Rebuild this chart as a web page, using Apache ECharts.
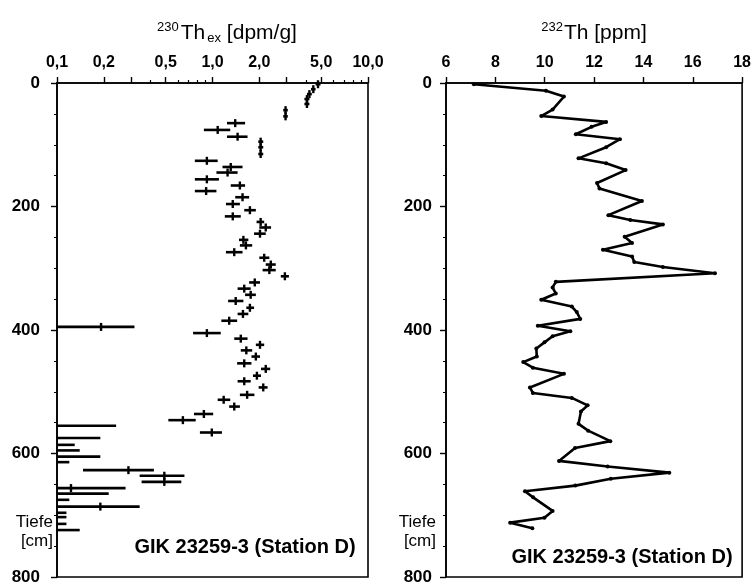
<!DOCTYPE html>
<html>
<head>
<meta charset="utf-8">
<script src="https://cdn.jsdelivr.net/npm/echarts@6/dist/echarts.min.js"></script>
<style>
  html, body { margin: 0; padding: 0; background: #fff; }
  #chart { width: 754px; height: 586px; }
</style>
</head>
<body>
<div id="chart"></div>
<script>
// 230Th_ex (dpm/g): Tiefe, Wert, Fehler unten, Fehler oben
var exDepth = [2, 10, 18, 26, 34, 44, 54, 65, 76, 87,
	95, 104, 115, 126, 136, 145, 156, 166, 175, 185,
	196, 206, 216, 225, 234, 244, 254, 263, 274, 283,
	294, 303, 313, 323, 333, 343, 353, 364, 374, 385,
	395, 405, 414, 424, 433, 443, 454, 463, 474, 483,
	493, 505, 513, 524, 536, 546, 566,
	555, 575, 586, 595, 605, 614, 627, 636, 646, 656,
	665, 675, 686, 696, 703, 714, 724];
var exVal = [4.77, 4.45, 4.2, 4.05, 4.05, 2.95, 2.95, 1.40, 1.08, 1.45,
	2.04, 2.04, 2.04, 0.92, 1.31, 1.25, 0.92, 1.50, 0.91, 1.56,
	1.35, 1.74, 1.35, 2.04, 2.20, 2.02, 1.58, 1.64, 1.38, 2.15,
	2.37, 2.32, 2.92, 1.87, 1.60, 1.76, 1.41, 1.74, 1.57, 1.28,
	0.192, 0.92, 1.52, 2.02, 1.65, 1.90, 1.60, 2.20, 1.93, 1.60,
	2.12, 1.67, 1.18, 1.38, 0.88, 0.645, 0.99,
	0.1, 0.1, 0.1, 0.1, 0.1, 0.1, 0.288, 0.49, 0.49, 0.123,
	0.1, 0.1, 0.19, 0.1, 0.1, 0.1, 0.1];
var exLo = [4.6, 4.3, 4.05, 3.9, 3.9, 2.85, 2.85, 1.24, 0.88, 1.24,
	1.97, 1.97, 1.97, 0.77, 1.16, 1.06, 0.77, 1.31, 0.77, 1.40,
	1.22, 1.60, 1.20, 1.92, 2.00, 1.85, 1.48, 1.50, 1.22, 2.00,
	2.20, 2.10, 2.75, 1.72, 1.45, 1.62, 1.26, 1.65, 1.45, 1.14,
	0.1, 0.75, 1.38, 1.90, 1.52, 1.78, 1.44, 2.05, 1.82, 1.45,
	1.98, 1.50, 1.08, 1.28, 0.76, 0.52, 0.83,
	0.1, 0.1, 0.1, 0.1, 0.1, 0.1, 0.147, 0.34, 0.35, 0.1,
	0.1, 0.1, 0.1, 0.1, 0.1, 0.1, 0.1];
var exHi = [4.95, 4.6, 4.35, 4.2, 4.2, 3.05, 3.05, 1.62, 1.30, 1.68,
	2.12, 2.12, 2.12, 1.08, 1.56, 1.45, 1.10, 1.62, 1.06, 1.72,
	1.50, 1.90, 1.52, 2.15, 2.38, 2.20, 1.70, 1.80, 1.56, 2.32,
	2.55, 2.55, 3.10, 2.02, 1.76, 1.90, 1.58, 1.85, 1.70, 1.44,
	0.315, 1.13, 1.68, 2.15, 1.80, 2.02, 1.78, 2.35, 2.05, 1.76,
	2.26, 1.86, 1.30, 1.50, 1.01, 0.78, 1.15,
	0.24, 0.19, 0.13, 0.14, 0.19, 0.12, 0.42, 0.66, 0.63, 0.276,
	0.215, 0.12, 0.34, 0.115, 0.115, 0.115, 0.14];

// 232Th (ppm)
var thDepth = [2, 12.5, 22, 43, 53.5, 63, 71, 83, 91, 104,
	122, 130, 141, 162, 171, 191, 214, 222, 229, 249,
	259, 270, 281, 290, 298, 308, 322, 331, 341, 351,
	362, 371, 382, 393, 402, 410, 420, 430, 443, 452,
	461, 471, 493, 502, 510, 522, 532, 552, 563, 580,
	591, 612, 621, 631, 641, 652, 661, 671, 693, 704,
	712, 721];
var thVal = [7.13, 10.05, 10.78, 10.32, 9.86, 12.49, 11.9, 11.26, 13.05, 12.49,
	11.37, 12.49, 13.28, 12.12, 12.22, 13.94, 12.58, 13.47, 14.79, 13.24,
	13.54, 12.36, 13.54, 13.63, 14.79, 16.9, 10.45, 10.32, 10.45, 9.86,
	11.1, 11.3, 11.44, 9.72, 11.04, 10.32, 9.99, 9.66, 9.68, 9.13,
	9.52, 10.78, 9.4, 9.52, 11.1, 11.74, 11.47, 11.37, 11.76, 12.66,
	11.23, 10.58, 12.55, 15.05, 12.68, 11.24, 9.2, 9.53, 10.32, 9.99,
	8.6, 9.5];

// Achsenbeschriftung
var logLabels = [0.1, 0.2, 0.5, 1, 2, 5, 10];
var logMajor = [0.1, 0.2, 0.3, 0.5, 1, 2, 3, 5, 10];
var logMinor = [0.4, 0.6, 0.7, 0.8, 0.9, 4, 6, 7, 8, 9];
var depthTicks = [0, 200, 400, 600, 800];
var stationText = 'GIK 23259-3 (Station D)';

var chart = echarts.init(document.getElementById('chart'));
var FONT = '"Liberation Sans", Arial, sans-serif';

var exData = [];
for (var i = 0; i < exDepth.length; i++) {
	exData.push([exVal[i], exDepth[i], exLo[i], exHi[i]]);
}
var thData = [];
for (var j = 0; j < thDepth.length; j++) {
	thData.push([thVal[j], thDepth[j]]);
}

function log10(v) { return Math.log(v) / Math.LN10; }

//Fehlerbalken mit Kreuz
function renderErr(params, api) {
	var v = api.value(0), d = api.value(1);
	var pLo = api.coord([api.value(2), d]);
	var pHi = api.coord([api.value(3), d]);
	var p = api.coord([v, d]);
	var kids = [{
		type: 'line',
		shape: { x1: pLo[0], y1: pLo[1], x2: pHi[0], y2: pHi[1] },
		style: { stroke: '#000', lineWidth: 2.6 }
	}];
	if (v > 0.1) {
		kids.push({
			type: 'line',
			shape: { x1: p[0], y1: p[1] - 4, x2: p[0], y2: p[1] + 4 },
			style: { stroke: '#000', lineWidth: 2.4 }
		});
	}
	return { type: 'group', children: kids };
}

var axisLineStyle = { color: '#000', width: 1.6 };
var labelStyle = { color: '#000', fontFamily: FONT, fontWeight: 'bold', fontSize: 16 };

function yAxisFor(grid, margin) {
	return {
		type: 'value', gridIndex: grid, inverse: true, min: 0, max: 800, interval: 200,
		axisLine: { show: true, onZero: false, lineStyle: axisLineStyle },
		axisTick: { show: true, length: 6, lineStyle: { color: '#000', width: 1.4 } },
		minorTick: { show: true, splitNumber: 4, length: 3, lineStyle: { color: '#000', width: 1 } },
		axisLabel: { color: '#000', fontFamily: FONT, fontWeight: 'bold', fontSize: 17, margin: margin,
			customValues: depthTicks, showMinLabel: true, showMaxLabel: true },
		splitLine: { show: false }
	};
}

var option = {
	animation: false,
	backgroundColor: '#fff',
	grid: [
		{ left: 57, top: 83, width: 311, height: 494, show: true, borderColor: '#000', borderWidth: 1.6 },
		{ left: 446, top: 83, width: 302, height: 494, show: true, borderColor: '#000', borderWidth: 1.6 }
	],
	xAxis: [
		{
			type: 'log', logBase: 10, min: 0.1, max: 10, gridIndex: 0, position: 'top',
			axisLine: { show: true, onZero: false, lineStyle: axisLineStyle },
			axisTick: { show: false }, axisLabel: { show: false },
			splitLine: { show: false }, minorSplitLine: { show: false }
		},
		{
			type: 'value', min: -1, max: 1, gridIndex: 0, position: 'top',
			axisLine: { show: false, onZero: false },
			axisTick: { show: true, length: 6, customValues: logMajor.map(log10),
				lineStyle: { color: '#000', width: 1.4 } },
			axisLabel: Object.assign({ margin: 12, customValues: logLabels.map(log10),
				formatter: function (v) {
					return Math.pow(10, v).toFixed(1).replace('.', ',');
				} }, labelStyle),
			splitLine: { show: false }
		},
		{
			type: 'value', min: -1, max: 1, gridIndex: 0, position: 'top',
			axisLine: { show: false, onZero: false },
			axisTick: { show: true, length: 3, customValues: logMinor.map(log10),
				lineStyle: { color: '#000', width: 1.2 } },
			axisLabel: { show: false },
			splitLine: { show: false }
		},
		{
			type: 'value', min: 6, max: 18, interval: 2, gridIndex: 1, position: 'top',
			axisLine: { show: true, onZero: false, lineStyle: axisLineStyle },
			axisTick: { show: true, length: 6, lineStyle: { color: '#000', width: 1.4 } },
			axisLabel: Object.assign({ margin: 12 }, labelStyle),
			splitLine: { show: false }
		}
	],
	yAxis: [yAxisFor(0, 17), yAxisFor(1, 14)],
	graphic: [
		{ type: 'text', x: 227, y: 33, style: {
			text: '{sup|230}{m|Th}{sub|ex}{m| [dpm/g]}', align: 'center', verticalAlign: 'middle',
			rich: {
				sup: { fontFamily: FONT, fontSize: 13, fill: '#000', verticalAlign: 'top', padding: [0, 2, 0, 0] },
				m: { fontFamily: FONT, fontSize: 21, fill: '#000', lineHeight: 24 },
				sub: { fontFamily: FONT, fontSize: 13, fill: '#000', verticalAlign: 'bottom', padding: [0, 0, 0, 2] }
			} } },
		{ type: 'text', x: 594, y: 33, style: {
			text: '{sup|232}{m|Th [ppm]}', align: 'center', verticalAlign: 'middle',
			rich: {
				sup: { fontFamily: FONT, fontSize: 13, fill: '#000', verticalAlign: 'top', padding: [0, 1, 0, 0] },
				m: { fontFamily: FONT, fontSize: 21, fill: '#000', lineHeight: 24 }
			} } },
		{ type: 'text', x: 53, y: 522, style: { text: 'Tiefe', align: 'right', verticalAlign: 'middle',
			font: '17px ' + FONT, fill: '#000' } },
		{ type: 'text', x: 53, y: 541, style: { text: '[cm]', align: 'right', verticalAlign: 'middle',
			font: '17px ' + FONT, fill: '#000' } },
		{ type: 'text', x: 436, y: 522, style: { text: 'Tiefe', align: 'right', verticalAlign: 'middle',
			font: '17px ' + FONT, fill: '#000' } },
		{ type: 'text', x: 436, y: 541, style: { text: '[cm]', align: 'right', verticalAlign: 'middle',
			font: '17px ' + FONT, fill: '#000' } },
		{ type: 'text', x: 245, y: 547, style: { text: stationText, align: 'center', verticalAlign: 'middle',
			font: 'bold 20px ' + FONT, fill: '#000' } },
		{ type: 'text', x: 622, y: 557, style: { text: stationText, align: 'center', verticalAlign: 'middle',
			font: 'bold 20px ' + FONT, fill: '#000' } }
	],
	series: [
		{
			type: 'custom', xAxisIndex: 0, yAxisIndex: 0,
			renderItem: renderErr,
			encode: { x: [0, 2, 3], y: 1 },
			data: exData
		},
		{
			type: 'line', xAxisIndex: 3, yAxisIndex: 1,
			data: thData,
			symbol: 'circle', symbolSize: 4,
			itemStyle: { color: '#000' },
			lineStyle: { color: '#000', width: 2.6 }
		}
	]
};

chart.setOption(option);
</script>
</body>
</html>
